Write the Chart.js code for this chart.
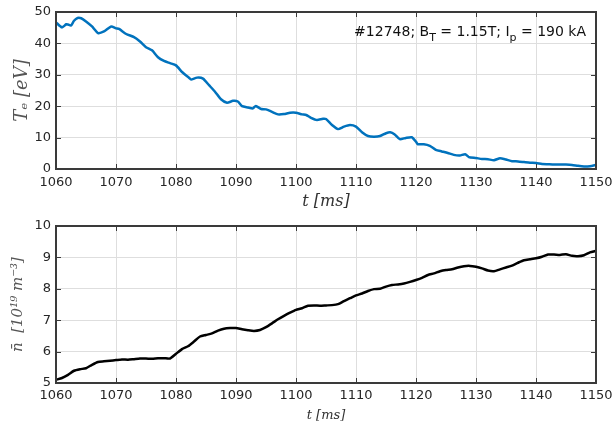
<!DOCTYPE html>
<html>
<head>
<meta charset="utf-8">
<script src="https://cdn.jsdelivr.net/npm/chart.js@4.4.0/dist/chart.umd.min.js"></script>
<style>
  html, body { margin: 0; padding: 0; background: #fff; }
  #wrap { position: relative; width: 613px; height: 430px; }
  canvas { position: absolute; left: 0; }
  #teChart { top: 0; width: 613px; height: 212px; }
  #neChart { top: 212px; width: 613px; height: 218px; }
</style>
</head>
<body>
<div id="wrap">
  <canvas id="teChart" width="613" height="212"></canvas>
  <canvas id="neChart" width="613" height="218"></canvas>
</div>
<script>
// electron temperature (top panel)
const teTime = [1060, 1061, 1061.7, 1062, 1062.5, 1063, 1063.6, 1064.2, 1065, 1066, 1067, 1068, 1069.2, 1070, 1070.5,
  1071.7, 1073, 1074, 1075, 1076, 1077, 1078, 1079, 1080, 1081, 1082.2, 1082.5, 1083.5, 1084.5, 1085.5, 1086.5,
  1087.5, 1088.5, 1089.5, 1090.3, 1091, 1092, 1092.8, 1093.3, 1094.2, 1095, 1096, 1097, 1098, 1099, 1100, 1101,
  1101.7, 1102.5, 1103.5, 1104.5, 1105, 1106, 1107, 1108, 1109, 1110, 1111, 1112, 1113, 1114, 1115, 1115.7,
  1116.4, 1117.3, 1118.3, 1119.3, 1120, 1120.3, 1121.3, 1122.3, 1123.3, 1124.3, 1125.3, 1126.3, 1127.3, 1128.2,
  1128.8, 1130, 1131, 1132, 1133, 1134, 1135, 1136, 1137, 1138, 1139, 1140, 1141, 1142, 1143, 1144, 1145, 1146,
  1147, 1148, 1149, 1150];
const teValues = [46.7, 45.1, 46.1, 46.0, 45.7, 47.2, 48.1, 48.0, 47.0, 45.4, 43.3, 43.8, 45.4, 44.8, 44.6,
  43.0, 42.0, 40.6, 38.8, 37.8, 35.6, 34.4, 33.7, 33.0, 30.9, 29.0, 28.5, 29.1, 28.8, 26.7, 24.6,
  22.2, 21.1, 21.7, 21.5, 20.0, 19.6, 19.3, 20.1, 19.1, 19.0, 18.2, 17.4, 17.5, 17.9, 17.9, 17.4,
  17.2, 16.3, 15.6, 16.0, 15.9, 14.0, 12.7, 13.5, 14.0, 13.5, 11.7, 10.5, 10.3, 10.5, 11.4, 11.7,
  11.1, 9.5, 9.9, 10.1, 8.7, 7.9, 7.9, 7.4, 6.1, 5.6, 5.1, 4.5, 4.3, 4.7,
  3.8, 3.5, 3.2, 3.1, 2.8, 3.4, 3.0, 2.5, 2.4, 2.2, 2.0, 1.9, 1.6, 1.5, 1.4, 1.4, 1.4, 1.3,
  1.0, 0.8, 0.9, 1.3];

// line-averaged density (bottom panel)
const neTime = [1060, 1061, 1062, 1063, 1064, 1065, 1066, 1067, 1068, 1069, 1070, 1071, 1072, 1073, 1074, 1075,
  1076, 1077, 1078, 1079, 1080, 1081, 1082, 1083, 1084, 1085, 1086, 1087, 1088, 1089, 1090, 1091, 1092, 1093,
  1094, 1095, 1096, 1097, 1098, 1099, 1100, 1101, 1102, 1103, 1104, 1105, 1106, 1107, 1108, 1109, 1110, 1111,
  1112, 1113, 1114, 1115, 1116, 1117, 1118, 1119, 1120, 1121, 1122, 1123, 1124, 1125, 1126, 1127, 1128, 1129,
  1130, 1131, 1132, 1133, 1134, 1135, 1136, 1137, 1138, 1139, 1140, 1141, 1142, 1143, 1144, 1145, 1146, 1147,
  1148, 1149, 1150];
const neValues = [5.10, 5.16, 5.26, 5.39, 5.44, 5.47, 5.58, 5.67, 5.69, 5.71, 5.73, 5.75, 5.74, 5.76, 5.78, 5.78,
  5.77, 5.79, 5.79, 5.78, 5.93, 6.08, 6.17, 6.32, 6.48, 6.53, 6.58, 6.67, 6.73, 6.75, 6.75, 6.71, 6.68, 6.66,
  6.69, 6.78, 6.90, 7.03, 7.14, 7.24, 7.33, 7.38, 7.46, 7.47, 7.46, 7.47, 7.48, 7.51, 7.61, 7.70, 7.79, 7.85,
  7.93, 7.99, 8.00, 8.07, 8.12, 8.14, 8.17, 8.22, 8.28, 8.35, 8.44, 8.49, 8.56, 8.60, 8.62, 8.68, 8.72, 8.73,
  8.70, 8.65, 8.58, 8.56, 8.62, 8.68, 8.74, 8.83, 8.91, 8.94, 8.97, 9.02, 9.09, 9.09, 9.08, 9.10, 9.05, 9.04,
  9.07, 9.16, 9.21];

const xTicks = [1060, 1070, 1080, 1090, 1100, 1110, 1120, 1130, 1140, 1150];
const teTicks = [0, 10, 20, 30, 40, 50];
const neTicks = [5, 6, 7, 8, 9, 10];

// text pieces of the shot label, second item = subscript
const shotLabel = [['#12748; B', false], ['T', true], [' = 1.15T; I', false], ['p', true], [' = 190 kA', false]];

const axisColor = '#262626';
const gridColor = '#dedede';

// MATLAB-like box with inward ticks, plus the shot label on the top panel
const decorPlugin = {
  id: 'decor',
  afterDraw(chart) {
    const ctx = chart.ctx;
    const a = chart.chartArea;
    ctx.save();
    ctx.setLineDash([]);
    ctx.globalAlpha = 1;
    const sx = chart.scales.x, sy = chart.scales.y;
    const yVals = chart.canvas.id === 'teChart' ? teTicks : neTicks;
    ctx.fillStyle = '#3a3a3a';
    // inward ticks
    xTicks.forEach(v => {
      const px = Math.round(sx.getPixelForValue(v));
      ctx.fillRect(px, a.bottom - 5, 1, 5);
      ctx.fillRect(px, a.top, 1, 5);
    });
    yVals.forEach(v => {
      const py = Math.round(sy.getPixelForValue(v));
      ctx.fillRect(a.left, py, 5, 1);
      ctx.fillRect(a.right - 5, py, 5, 1);
    });
    // box edges
    const L = Math.round(a.left), R = Math.round(a.right), T = Math.round(a.top), B = Math.round(a.bottom);
    ctx.fillRect(L - 1, T - 1, R - L + 2, 2);
    ctx.fillRect(L - 1, B - 1, R - L + 2, 2);
    ctx.fillRect(L - 1, T - 1, 2, B - T + 2);
    ctx.fillRect(R - 1, T - 1, 2, B - T + 2);

    if (chart.canvas.id === 'teChart') {
      const mainFont = '14px "DejaVu Sans", sans-serif';
      const subFont = '11px "DejaVu Sans", sans-serif';
      let total = 0;
      shotLabel.forEach(([txt, sub]) => {
        ctx.font = sub ? subFont : mainFont;
        total += ctx.measureText(txt).width;
      });
      let x = a.right - 10 - total;
      const base = a.top + 24;
      ctx.fillStyle = '#111';
      ctx.textBaseline = 'alphabetic';
      ctx.textAlign = 'left';
      shotLabel.forEach(([txt, sub]) => {
        ctx.font = sub ? subFont : mainFont;
        ctx.fillText(txt, x, sub ? base + 5 : base);
        x += ctx.measureText(txt).width;
      });
    }
    ctx.restore();
  }
};

function noPad(s) {
  s.paddingLeft = 0; s.paddingRight = 0; s.paddingTop = 0; s.paddingBottom = 0;
}

function makeChart(id, time, values, color, yTicks, opts) {
  return new Chart(document.getElementById(id).getContext('2d'), {
    type: 'line',
    data: {
      datasets: [{
        data: time.map((t, i) => ({ x: t, y: values[i] })),
        borderColor: color,
        borderWidth: 2.5,
        pointRadius: 0,
        tension: 0.2,
        fill: false
      }]
    },
    options: {
      responsive: false,
      animation: false,
      devicePixelRatio: 1,
      layout: { padding: { top: opts.padTop, right: 17, left: 0, bottom: 0 } },
      plugins: { legend: { display: false }, tooltip: { enabled: false } },
      scales: {
        x: {
          type: 'linear',
          min: 1060, max: 1150,
          afterBuildTicks: s => { s.ticks = xTicks.map(v => ({ value: v })); },
          afterFit: s => { s.height = opts.xHeight; noPad(s); },
          grid: { color: gridColor, lineWidth: 1, drawTicks: false },
          border: { display: false },
          ticks: { color: axisColor, padding: opts.xPad, maxRotation: 0,
                   callback: v => String(v),
                   font: { family: '"DejaVu Sans", sans-serif', size: 13 } },
          title: { display: true, text: 't [ms]', color: '#333',
                   padding: { top: 0, bottom: opts.xTitlePad },
                   font: { family: '"DejaVu Serif", serif', style: 'italic', size: opts.xTitleSize } }
        },
        y: {
          min: yTicks[0], max: yTicks[yTicks.length - 1],
          afterBuildTicks: s => { s.ticks = yTicks.map(v => ({ value: v })); },
          afterFit: s => { s.width = 56; noPad(s); },
          grid: { color: gridColor, lineWidth: 1, drawTicks: false },
          border: { display: false },
          ticks: { color: axisColor, padding: 5, callback: v => String(v),
                   font: { family: '"DejaVu Sans", sans-serif', size: 13 } },
          title: { display: true, text: opts.yTitle, color: '#555',
                   padding: { top: opts.yTitlePad, bottom: 0 },
                   font: { family: '"DejaVu Serif", serif', style: 'italic', size: opts.yTitleSize } }
        }
      }
    },
    plugins: [decorPlugin]
  });
}

makeChart('teChart', teTime, teValues, '#0072BD', teTicks, {
  padTop: 12, xHeight: 43, xPad: 6, xTitleSize: 16, xTitlePad: 1,
  yTitle: 'Tₑ [eV]', yTitleSize: 18, yTitlePad: 12
});
makeChart('neChart', neTime, neValues, '#000000', neTicks, {
  padTop: 14, xHeight: 47, xPad: 5, xTitleSize: 13, xTitlePad: 7,
  yTitle: 'n̄  [10¹⁹ m⁻³]', yTitleSize: 15, yTitlePad: 9
});
</script>
</body>
</html>
